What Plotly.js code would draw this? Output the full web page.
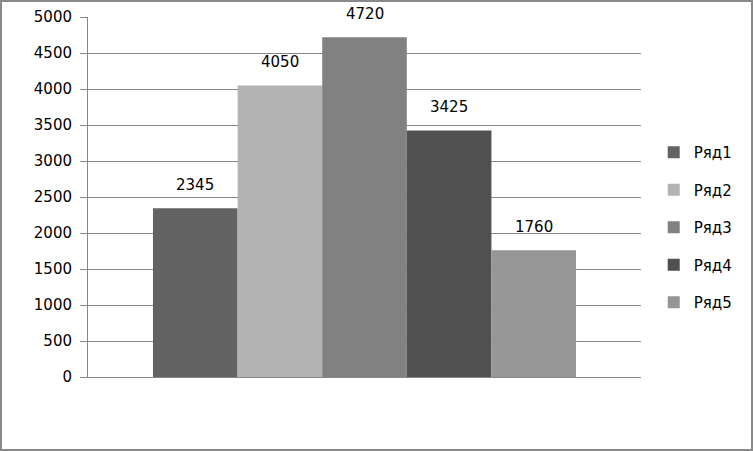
<!DOCTYPE html>
<html>
<head>
<meta charset="utf-8">
<script src="https://cdn.plot.ly/plotly-3.0.1.min.js"></script>
<style>
html,body{margin:0;padding:0;background:#fff;}
#wrap{position:relative;width:753px;height:451px;}
#chart{position:absolute;left:0;top:0;width:753px;height:451px;}
#frame{position:absolute;left:0;top:0;width:753px;height:451px;box-sizing:border-box;border:2px solid #898989;pointer-events:none;}
</style>
</head>
<body>
<div id="wrap"><div id="chart"></div><div id="frame"></div></div>
<script>
const seriesNames = ["Ряд1", "Ряд2", "Ряд3", "Ряд4", "Ряд5"];
const seriesValues = [2345, 4050, 4720, 3425, 1760];
const seriesColors = ["#636363", "#b3b3b3", "#818181", "#505050", "#969696"];
const category = [""];
const yTicks = [0, 500, 1000, 1500, 2000, 2500, 3000, 3500, 4000, 4500, 5000];

const FONT = "DejaVu Sans, Verdana, sans-serif";
const bargap = 0.235;
const n = seriesNames.length;

const traces = seriesNames.map((name, i) => ({
  type: "bar",
  name: name,
  x: category,
  y: [seriesValues[i]],
  marker: {color: seriesColors[i], line: {width: 0}},
  legendgroup: "g" + i,
  hoverinfo: "skip"
}));

// label annotations positioned over each grouped bar
const groupW = 1 - bargap;
const annotations = seriesValues.map((v, i) => ({
  x: (i - (n - 1) / 2) * groupW / n,
  y: v,
  xref: "x", yref: "y",
  text: String(v),
  showarrow: false,
  yanchor: "bottom",
  yshift: 12,
  font: {family: FONT, size: 15, color: "#000"}
}));

const layout = {
  width: 753, height: 451,
  margin: {l: 88, r: 112, t: 17, b: 74, pad: 0},
  paper_bgcolor: "#fff",
  plot_bgcolor: "#fff",
  font: {family: FONT, size: 15, color: "#000"},
  barmode: "group",
  bargap: bargap,
  bargroupgap: 0,
  showlegend: true,
  xaxis: {
    type: "category",
    range: [-0.5, 0.5],
    showticklabels: false,
    ticks: "",
    showgrid: false,
    zeroline: false,
    showline: true,
    linecolor: "#868686",
    linewidth: 1,
    fixedrange: true
  },
  yaxis: {
    range: [0, 5000],
    tickvals: yTicks,
    ticktext: yTicks.map(String),
    ticks: "outside",
    ticklen: 7,
    tickcolor: "#868686",
    tickwidth: 1,
    ticklabelstandoff: 5,
    showgrid: true,
    gridcolor: "#868686",
    gridwidth: 1,
    zeroline: false,
    showline: true,
    linecolor: "#868686",
    linewidth: 1,
    tickfont: {family: FONT, size: 15, color: "#000"},
    fixedrange: true
  },
  legend: {
    x: 1.023, xanchor: "left",
    y: 0.415, yanchor: "middle",
    traceorder: "grouped",
    tracegroupgap: 15,
    font: {family: FONT, size: 15, color: "#000"},
    bgcolor: "rgba(0,0,0,0)",
    itemclick: false, itemdoubleclick: false
  },
  annotations: annotations
};

Plotly.newPlot("chart", traces, layout, {displayModeBar: false, staticPlot: true});
</script>
</body>
</html>
